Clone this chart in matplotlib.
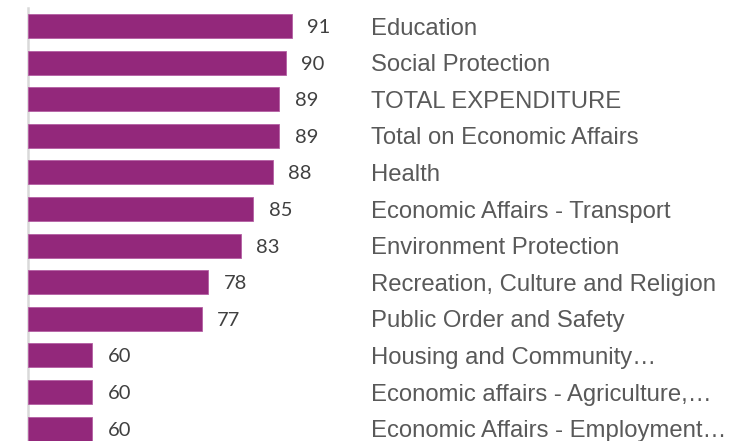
import matplotlib
matplotlib.use("Agg")
import matplotlib.pyplot as plt
import matplotlib.transforms as mtransforms

PURPLE = "#93287B"
TEXT   = "#595959"

categories = [
    "Education",
    "Social Protection",
    "TOTAL EXPENDITURE",
    "Total on Economic Affairs",
    "Health",
    "Economic Affairs - Transport",
    "Environment Protection",
    "Recreation, Culture and Religion",
    "Public Order and Safety",
    "Housing and Community\u2026",
    "Economic affairs - Agriculture,\u2026",
    "Economic Affairs - Employment\u2026",
]
values = [91, 90, 89, 89, 88, 85, 83, 78, 77, 60, 60, 60]

W, H, DPI = 748, 441, 100
fig = plt.figure(figsize=(W / DPI, H / DPI), dpi=DPI)

# axes placed in pixels: left edge at the grey axis line, top half a slot above bar 1
left_px, top_px, slot = 27.7, 7.7, 36.6
n = len(values)
bottom_px = top_px + n * slot
ax = fig.add_axes([left_px / W, 1 - bottom_px / H, 1 - left_px / W, (bottom_px - top_px) / H])

pos = list(range(n))
bars = ax.barh(pos, [v - 50 for v in values], left=50, height=0.66,
               color=PURPLE, edgecolor="#B45FA3", linewidth=0.6, zorder=3)

ax.set_xlim(50, 50 + (W - left_px) / 6.45)
ax.set_ylim(n - 0.5, -0.5)

for b, v in zip(bars, values):
    ax.annotate(str(v), (b.get_x() + b.get_width(), b.get_y() + b.get_height() / 2),
                xytext=(11, 0), textcoords="offset points",
                ha="left", va="center_baseline", fontsize=14.5, family="Lato",
                color="#404040")

trans = mtransforms.blended_transform_factory(ax.transAxes, ax.transData)
label_x = (371 - left_px) / (W - left_px)
for p, c in zip(pos, categories):
    ax.text(label_x, p, c, transform=trans, ha="left", va="center_baseline",
            fontsize=17.2, family="Liberation Sans", color=TEXT)

for s in ["top", "right", "bottom"]:
    ax.spines[s].set_visible(False)
ax.spines["left"].set_color("#D9D9D9")
ax.spines["left"].set_linewidth(1.8)
ax.set_xticks([])
ax.set_yticks([])

fig.savefig("out.png", dpi=DPI)
